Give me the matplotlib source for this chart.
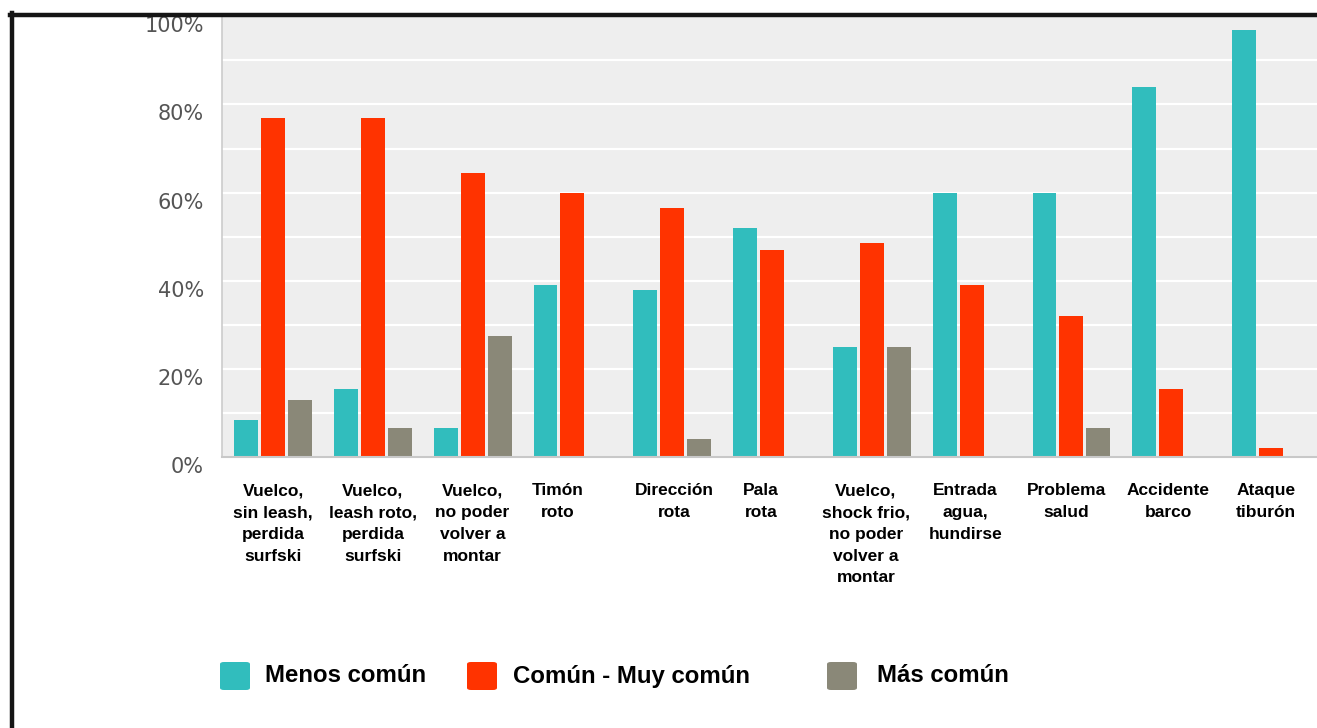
import matplotlib
matplotlib.use("Agg")
import matplotlib.pyplot as plt
import numpy as np
from matplotlib.patches import FancyBboxPatch
from matplotlib.lines import Line2D
from matplotlib.transforms import ScaledTranslation

categories = [
    "Vuelco,\nsin leash,\nperdida\nsurfski",
    "Vuelco,\nleash roto,\nperdida\nsurfski",
    "Vuelco,\nno poder\nvolver a\nmontar",
    "Timón\nroto",
    "Dirección\nrota",
    "Pala\nrota",
    "Vuelco,\nshock frio,\nno poder\nvolver a\nmontar",
    "Entrada\nagua,\nhundirse",
    "Problema\nsalud",
    "Accidente\nbarco",
    "Ataque\ntiburón",
]
menos_comun = [8.5, 15.5, 6.5, 39, 38, 52, 25, 60, 60, 84, 97]
comun_muy_comun = [77, 77, 64.5, 60, 56.5, 47, 48.5, 39, 32, 15.5, 2]
mas_comun = [13, 6.5, 27.5, 0, 4, 0, 25, 0, 6.5, 0, 0]
series_names = ["Menos común", "Común - Muy común", "Más común"]
yticks = [0, 20, 40, 60, 80, 100]
ytick_labels = ["0%", "20%", "40%", "60%", "80%", "100%"]

colors = ["#31bdbd", "#ff3300", "#8a8878"]
label_shift = [0, 0, 0, -0.15, 0.02, -0.11, -0.06, -0.06, -0.05, -0.03, -0.05]

W, H = 1317, 728
fig = plt.figure(figsize=(W / 100, H / 100), dpi=100)
fig.patch.set_facecolor("white")

left, right, bottom, top = 222, 1317, 457, 15
ax = fig.add_axes([left / W, 1 - bottom / H, (right - left) / W, (bottom - top) / H])
ax.set_facecolor("#eeeeee")

x = np.arange(len(categories))
bw = 0.24
step = 0.27
for i, (vals, c) in enumerate(zip([menos_comun, comun_muy_comun, mas_comun], colors)):
    ax.bar(x + (i - 1) * step, vals, width=bw, color=c, zorder=3, linewidth=0)

ax.set_xlim(-0.511, 10.46)
ax.set_ylim(0, 100.3)
ax.set_yticks(np.arange(0, 101, 10), minor=True)
ax.grid(True, axis="y", which="both", color="white", linewidth=1.6, zorder=1)
ax.grid(False, axis="x")

ax.set_yticks(yticks)
ax.set_yticklabels(ytick_labels, fontsize=15, color="#555555", family="DejaVu Sans")
ax.tick_params(axis="y", which="both", length=0, pad=13)
for lab in ax.get_yticklabels():
    lab.set_transform(lab.get_transform() + ScaledTranslation(0, -8 / 100, fig.dpi_scale_trans))

ax.set_xticks(x + np.array(label_shift))
ax.set_xticklabels(categories, fontsize=12.5, fontweight="bold", color="black",
                   family="Liberation Sans", linespacing=1.56)
ax.tick_params(axis="x", length=0, pad=19)

for s in ["top", "right"]:
    ax.spines[s].set_visible(False)
ax.spines["left"].set_color("#cccccc")
ax.spines["bottom"].set_color("#c8c8c8")
ax.spines["left"].set_linewidth(1.2)
ax.spines["bottom"].set_linewidth(1.5)
ax.spines["bottom"].set_zorder(4)

# legend (manual)
leg_items = [(220, 265), (467, 513), (827, 877)]
for (sx, tx), name, c in zip(leg_items, series_names, colors):
    fig.patches.append(FancyBboxPatch((sx / W, 1 - 690 / H), 30 / W, 28 / H,
                                      boxstyle="round,pad=0,rounding_size=0.003",
                                      transform=fig.transFigure, facecolor=c,
                                      edgecolor="none", figure=fig))
    fig.text(tx / W, 1 - 676 / H, name, fontsize=17.3, fontweight="bold",
             family="Liberation Sans", va="center", ha="left", color="black")

# frame border
fig.lines.append(Line2D([10 / W, 1.0], [1 - 15 / H, 1 - 15 / H], transform=fig.transFigure,
                        color="#151515", linewidth=3.2, figure=fig))
fig.lines.append(Line2D([12 / W, 12 / W], [0, 1 - 13 / H], transform=fig.transFigure,
                        color="#151515", linewidth=3.2, figure=fig))

fig.savefig("out.png", dpi=100)
